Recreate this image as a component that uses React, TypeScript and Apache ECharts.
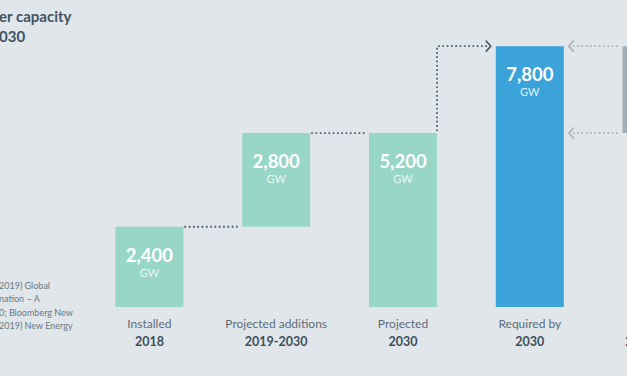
import React, { useEffect, useRef } from "react";
import * as echarts from "echarts";

const categories = ["Installed", "Projected additions", "Projected", "Required by", "Gap"];
const years = ["2018", "2019-2030", "2030", "2030", "2019-2030"];
const barValues = [2400, 2800, 5200, 7800, 2600];
const barBases = [0, 2400, 0, 0, 5200];
const barColors = ["#98d6c7", "#98d6c7", "#98d6c7", "#3ca3da", "#a3aeb6"];
const showValueLabel = [true, true, true, true, false];
// connectors: [fromIndex, toIndex, fromValue, toValue, kind]
const connectors = [
  [0, 1, 2400, 2400, 0],
  [1, 2, 5200, 5200, 0],
  [2, 3, 5200, 7800, 1],
  [4, 3, 7800, 7800, 2],
  [4, 3, 5200, 5200, 2],
];
const titleLines = ["er capacity", "030"];
const sourceLines = ["2019) Global", "nation – A", "0; Bloomberg New", "2019) New Energy"];

const BAR_W = 68;
const FONT = "Lato, 'Noto Sans', sans-serif";

export default function App() {
  const ref = useRef<HTMLDivElement>(null);
  useEffect(() => {
    if (!ref.current) return;
    const chart = echarts.init(ref.current, undefined, { renderer: "svg" });
    const dark = "#4a5e6c";
    const grey = "#a9b3bb";
    const renderItem = (params: any, api: any) => {
      const fi = api.value(0);
      const ti = api.value(1);
      const fv = api.value(2);
      const tv = api.value(3);
      const kind = api.value(4);
      const a = api.coord([fi, fv]);
      const b = api.coord([ti, tv]);
      const half = BAR_W / 2;
      const dotStyle = (stroke: string) => ({
        stroke,
        fill: null,
        lineWidth: 1.8,
        lineDash: [1.7, 2.6],
      });
      const children: any[] = [];
      if (kind === 0) {
        children.push({
          type: "line",
          shape: { x1: a[0] + half + 1, y1: a[1], x2: b[0] - half - 4, y2: a[1] },
          style: dotStyle(dark),
        });
      } else if (kind === 1) {
        const tip = b[0] - half - 5;
        children.push({
          type: "polyline",
          shape: { points: [[a[0] + half, a[1] - 2], [a[0] + half, b[1]], [tip - 2, b[1]]] },
          style: dotStyle(dark),
        });
        children.push({
          type: "polyline",
          shape: { points: [[tip - 5, b[1] - 5.5], [tip, b[1]], [tip - 5, b[1] + 5.5]] },
          style: { stroke: dark, fill: null, lineWidth: 1.6 },
        });
      } else {
        const tip = b[0] + half + 5;
        children.push({
          type: "line",
          shape: { x1: a[0] - half - 5, y1: a[1], x2: tip + 2, y2: a[1] },
          style: dotStyle(grey),
        });
        children.push({
          type: "polyline",
          shape: { points: [[tip + 5, a[1] - 5.5], [tip, a[1]], [tip + 5, a[1] + 5.5]] },
          style: { stroke: grey, fill: null, lineWidth: 1.6 },
        });
      }
      return { type: "group", children };
    };

    const graphics: any[] = [];
    titleLines.forEach((t, i) => {
      graphics.push({
        type: "text",
        left: -1,
        top: 8 + i * 20,
        style: { text: t, font: `bold 15px ${FONT}`, fill: "#3e5462" },
      });
    });
    sourceLines.forEach((t, i) => {
      graphics.push({
        type: "text",
        left: -1,
        top: 281 + i * 13.4,
        style: { text: t, font: `9px ${FONT}`, fill: "#687985" },
      });
    });

    chart.setOption({
      animation: false,
      backgroundColor: "#e1e6ea",
      textStyle: { fontFamily: FONT },
      grid: {
        left: 86,
        width: 634,
        top: 6,
        bottom: 69,
        containLabel: false,
        outerBoundsMode: "none",
      },
      xAxis: {
        type: "category",
        data: categories,
        axisLine: { show: false },
        axisTick: { show: false },
        axisLabel: {
          interval: 0,
          margin: 7,
          hideOverlap: false,
          formatter: (v: string, i: number) => `{a|${v}}\n{b|${years[i]}}`,
          rich: {
            a: { fontSize: 12, color: "#5c6c78", lineHeight: 18, fontFamily: FONT },
            b: { fontSize: 12.5, fontWeight: "bold", color: "#3b4f5c", lineHeight: 18, fontFamily: FONT },
          },
        },
      },
      yAxis: { type: "value", min: 0, max: 9000, show: false, splitLine: { show: false } },
      graphic: graphics,
      series: [
        {
          type: "bar",
          stack: "w",
          barWidth: BAR_W,
          data: barBases,
          itemStyle: { color: "transparent" },
          silent: true,
        },
        {
          type: "bar",
          stack: "w",
          barWidth: BAR_W,
          data: barValues.map((v, i) => ({
            value: v,
            itemStyle: { color: barColors[i] },
            label: { show: showValueLabel[i] },
          })),
          label: {
            position: "insideTop",
            distance: 18,
            formatter: (p: any) => `{v|${Number(p.value).toLocaleString("en-US")}}\n{u|GW}`,
            rich: {
              v: { fontSize: 18.5, fontWeight: "bold", color: "#ffffff", lineHeight: 20, fontFamily: FONT },
              u: { fontSize: 11, color: "rgba(255,255,255,0.85)", lineHeight: 15, fontFamily: FONT },
            },
          },
        },
        {
          type: "custom",
          renderItem,
          clip: false,
          encode: { x: 0, y: 2 },
          data: connectors,
          silent: true,
          z: 5,
        },
      ],
    });
    return () => chart.dispose();
  }, []);
  return (
    <div
      ref={ref}
      style={{ position: "fixed", left: 0, top: 0, width: 627, height: 376 }}
    />
  );
}
